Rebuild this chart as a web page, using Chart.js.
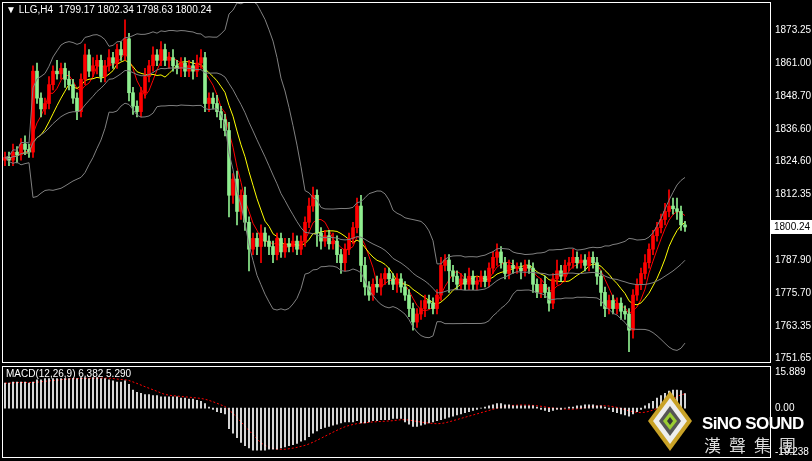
<!DOCTYPE html>
<html>
<head>
<meta charset="utf-8">
<script src="https://cdn.jsdelivr.net/npm/chart.js@4.4.1/dist/chart.umd.min.js"></script>
<style>
  body { margin: 0; background: #000; width: 812px; height: 461px; overflow: hidden; position: relative; font-family: "Liberation Sans", Arial, sans-serif; }
  canvas { position: absolute; left: 0; }
  #main { top: 0; }
  #macd { top: 364px; }
  .lbl { position: absolute; color: #fff; font-size: 10px; white-space: nowrap; }
  #logo1 { position: absolute; left: 702px; top: 414px; color: #fff; font: bold 17px "Liberation Sans", Arial, sans-serif; letter-spacing: -0.6px; }
  #logo2 { position: absolute; left: 704px; top: 432px; color: #ddd; font: 17px "Noto Sans CJK TC", sans-serif; letter-spacing: 8px; }
</style>
</head>
<body>
<canvas id="main" width="812" height="364"></canvas>
<canvas id="macd" width="812" height="97"></canvas>
<div class="lbl" style="left:6px;top:4px">&#9660; LLG,H4&nbsp; 1799.17 1802.34 1798.63 1800.24</div>
<div class="lbl" style="left:6px;top:368px">MACD(12,26,9) 6.382 5.290</div>
<div id="logo1">SiNO SOUND</div>
<div id="logo2">漢聲集團</div>
<script>
// closes (one per 4px candle)
const closes = [
  1826,1825,1828,1827,1831,1829,1828,1858,1848,1844,
  1846,1853,1858,1857,1859,1855,1853,1848,1843,1855,
  1864,1858,1860,1862,1856,1860,1863,1861,1866,1864,
  1870,1850,1845,1843,1850,1856,1860,1864,1862,1866,
  1862,1863,1860,1859,1861,1858,1860,1858,1861,1863,
  1846,1848,1846,1843,1840,1836,1812,1818,1806,1812,
  1802,1792,1796,1793,1798,1795,1793,1790,1796,1791,
  1794,1793,1795,1792,1795,1802,1808,1812,1798,1795,
  1797,1794,1795,1790,1787,1792,1796,1800,1808,1786,
  1778,1775,1779,1778,1781,1783,1781,1779,1781,1778,
  1775,1770,1765,1768,1770,1773,1772,1770,1775,1786,
  1788,1784,1782,1779,1781,1779,1782,1779,1780,1782,
  1780,1785,1789,1791,1787,1783,1786,1785,1785,1784,
  1786,1785,1779,1776,1779,1776,1772,1781,1784,1782,
  1786,1787,1789,1787,1788,1786,1789,1787,1782,1776,
  1770,1773,1770,1772,1769,1768,1762,1775,1779,1783,
  1787,1792,1797,1800,1803,1806,1808,1807,1806,1801,1800.24
];
const firstOpen = 1825;
const wickHi = [
  2,2,3,2,2,3,2,2,3,2, 2,3,2,4,2,2,3,2,2,2, 4,2,3,2,2,2,3,2,2,3,
  7,2,2,2,2,3,2,3,2,3, 2,2,3,2,2,2,2,2,3,3, 2,2,2,3,2,2,3,2,3,2,
  3,2,2,2,3,2,2,2,2,2, 2,2,3,2,2,2,3,3,2,2, 2,2,3,2,2,2,2,2,3,4,
  3,2,2,3,2,2,2,2,2,2, 2,2,2,2,3,2,2,2,2,3, 2,2,2,2,2,2,3,2,2,2,
  2,2,2,3,2,2,2,2,2,2, 2,2,2,2,2,3,2,2,4,2, 2,2,3,2,2,2,2,2,2,2,
  2,2,2,2,2,2,2,2,2,2, 3,2,2,2,2,3,6,3,4,2,1.34
];
const wickLo = [
  2,2,2,3,2,2,2,2,2,3, 2,2,2,2,2,3,2,2,3,2, 2,2,2,3,2,2,2,2,2,2,
  2,3,3,2,2,2,2,2,2,2, 2,3,2,2,3,2,2,3,2,2, 3,3,2,2,3,2,8,3,5,3,
  3,8,2,3,6,2,3,3,2,2, 2,2,2,2,2,2,2,2,5,3, 2,2,2,3,4,3,2,2,2,6,
  3,2,2,2,3,2,2,2,3,2, 2,3,3,2,2,3,2,2,2,2, 2,8,2,2,2,2,2,2,2,2,
  2,2,2,3,2,2,2,2,2,3, 2,2,3,2,2,2,3,2,2,2, 2,2,2,2,2,2,2,2,3,5,
  3,2,2,2,3,2,8,3,2,2, 2,2,2,2,2,2,2,2,3,2,1.61
];
const macdMain = [
  11,11,11.5,11.5,11.5,11.5,11,11.5,12.5,12.5,
  13,13,13,13,13,13,13,13,13,13.5,
  13.5,13,13.5,13.5,13,13,12.5,12,11.5,11.5,
  12,10.5,8,7,6.5,6,6,5.5,5.5,5,
  5,5,5,5,4.5,4.5,4,4,3.5,3,
  2,0.5,-0.5,-1.5,-2,-2.5,-9,-11,-13,-15,
  -16.5,-17.5,-18.5,-18.5,-18.5,-18.5,-18,-18,-18,-17.5,
  -17,-16.5,-16,-15.5,-14.5,-14,-12.5,-11,-10,-9,
  -8.5,-8,-7.5,-7,-6.5,-6,-6,-6,-5.5,-6.5,
  -6.5,-6,-5.5,-5.5,-5,-5,-5,-4.5,-4.5,-4.5,
  -6,-7,-8,-8,-7.5,-7,-6.5,-6,-5.5,-5,
  -4.5,-4,-3.5,-3,-2.5,-2,-1.5,-1,-0.5,0,
  0.5,1,1.5,2,2,1.5,1.5,1,1,1,
  1,1,1,0.5,-0.5,-1,-1.5,-1,-0.5,-0.5,
  0,0.5,0.5,1,1,1.5,1.5,1.5,1,1,
  0.5,-0.5,-1.5,-2,-2.5,-3,-3.5,-2.5,-1.5,-0.5,
  1,2,3,4.5,5.5,6.5,7.5,8,8,7.7,6.382
];
const priceTicks = [1873.25, 1861.00, 1848.70, 1836.60, 1824.60, 1812.35, 1787.90, 1775.70, 1763.35, 1751.65];
const macdTicks = [15.889, 0, -19.238];

const UP = '#ff0000', DN = '#90ee90';
const opens = closes.map((c, i) => i === 0 ? firstOpen : closes[i - 1]);

function sma(arr, n, i) {
  const s = Math.max(0, i - n + 1);
  let t = 0;
  for (let k = s; k <= i; k++) t += arr[k];
  return t / (i - s + 1);
}
function stdev(arr, n, i) {
  const m = sma(arr, n, i), s = Math.max(0, i - n + 1);
  let t = 0;
  for (let k = s; k <= i; k++) t += (arr[k] - m) ** 2;
  return Math.sqrt(t / (i - s + 1));
}

const bodies = [], wicks = [], colors = [];
closes.forEach((c, i) => {
  const o = opens[i];
  const up = c >= o;
  colors.push(up ? UP : DN);
  const top = Math.max(o, c), bot = Math.min(o, c);
  bodies.push({ x: i, y: [bot, Math.max(top, bot + 0.3)] });
  wicks.push({ x: i, y: [bot - wickLo[i], top + wickHi[i]] });
});
const ma5 = closes.map((c, i) => ({ x: i, y: sma(closes, 5, i) }));
const ma10 = closes.map((c, i) => ({ x: i, y: sma(closes, 10, i) }));
const bbUp = closes.map((c, i) => ({ x: i, y: sma(closes, 20, i) + 2 * stdev(closes, 20, i) }));
const bbMid = closes.map((c, i) => ({ x: i, y: sma(closes, 20, i) }));
const bbLo = closes.map((c, i) => ({ x: i, y: sma(closes, 20, i) - 2 * stdev(closes, 20, i) }));
const signal = macdMain.map((v, i) => ({ x: i, y: sma(macdMain, 9, i) }));

const line = (data, color) => ({ type: 'line', data, borderColor: color, borderWidth: 1, pointRadius: 0, tension: 0 });

const framePlugin = {
  id: 'frame',
  beforeDraw(chart) {
    const c = chart.ctx;
    c.save(); c.fillStyle = '#000'; c.fillRect(0, 0, chart.width, chart.height); c.restore();
  },
  afterDraw(chart) {
    const c = chart.ctx, a = chart.chartArea;
    c.save();
    c.strokeStyle = '#fff'; c.lineWidth = 1;
    c.strokeRect(a.left - 0.5, a.top - 0.5, a.right - a.left + 1, a.bottom - a.top + 1);
    const lp = chart.options.plugins.frame.lastPrice;
    if (lp) {
      const y = chart.scales.y.getPixelForValue(lp);
      c.fillStyle = '#fff';
      c.fillRect(a.right + 1, y - 7, 41, 14);
      c.fillStyle = '#000'; c.font = '10px "Liberation Sans", Arial';
      c.textBaseline = 'middle';
      c.fillText(lp.toFixed(2), a.right + 4, y);
    }
    c.restore();
  }
};

function xScale() {
  return { type: 'linear', display: false, offset: false, bounds: 'ticks', min: -0.5, max: 191.25 };
}
function yScale(min, max, ticks, fmt) {
  return {
    type: 'linear', position: 'right', min, max,
    afterBuildTicks(s) { s.ticks = ticks.map(v => ({ value: v })); },
    afterFit(s) { s.width = 42; s.paddingTop = 0; s.paddingBottom = 0; },
    grid: { display: false, drawTicks: true, tickLength: 3, tickColor: '#fff' },
    border: { display: false },
    ticks: { color: '#fff', font: { size: 10, family: '"Liberation Sans", Arial' }, padding: 2, callback: fmt, autoSkip: false }
  };
}
const baseOpts = (extra) => Object.assign({
  responsive: false, animation: false,
  layout: { padding: { left: 3, top: 3, bottom: 2, right: 0 } },
  plugins: { legend: { display: false }, tooltip: { enabled: false } },
  datasets: { bar: { grouped: false } }
}, extra);

new Chart(document.getElementById('main'), {
  type: 'bar',
  data: {
    datasets: [
      line(bbUp, '#808080'), line(bbMid, '#808080'), line(bbLo, '#808080'),
      { data: wicks, backgroundColor: colors, barThickness: 1, grouped: false },
      { data: bodies, backgroundColor: colors, barThickness: 3, grouped: false },
      line(ma10, '#ffff00'), line(ma5, '#ff0000')
    ]
  },
  options: baseOpts({
    scales: { x: xScale(), y: yScale(1750.2, 1883.26, priceTicks, v => v.toFixed(2)) },
    plugins: { legend: { display: false }, tooltip: { enabled: false }, frame: { lastPrice: closes[closes.length - 1] } }
  }),
  plugins: [framePlugin]
});

const logoPlugin = {
  id: 'logo',
  afterDraw(chart) {
    const c = chart.ctx;
    c.save();
    const cx = 670, cy = 57;
    const dia = (w, h, col) => { c.beginPath(); c.moveTo(cx, cy - h); c.lineTo(cx + w, cy); c.lineTo(cx, cy + h); c.lineTo(cx - w, cy); c.closePath(); c.fillStyle = col; c.fill(); };
    dia(22, 30, '#c9a227'); dia(17, 23, '#eeeeee'); dia(11, 15, '#555'); dia(7, 9, '#9acd32'); dia(3, 4, '#333');
    c.restore();
  }
};

new Chart(document.getElementById('macd'), {
  type: 'bar',
  data: {
    datasets: [
      { data: macdMain.map((v, i) => ({ x: i, y: v })), backgroundColor: '#ffffff', barThickness: 1, grouped: false },
      { type: 'line', data: signal, borderColor: '#ff0000', borderWidth: 1, borderDash: [2, 2], pointRadius: 0 }
    ]
  },
  options: baseOpts({
    layout: { padding: { left: 3, top: 3, bottom: 4, right: 0 } },
    scales: { x: xScale(), y: yScale(-21.46, 18.11, macdTicks, v => v === 0 ? '0.00' : String(v)) },
    plugins: { legend: { display: false }, tooltip: { enabled: false }, frame: {} }
  }),
  plugins: [framePlugin, logoPlugin]
});
</script>
</body>
</html>
